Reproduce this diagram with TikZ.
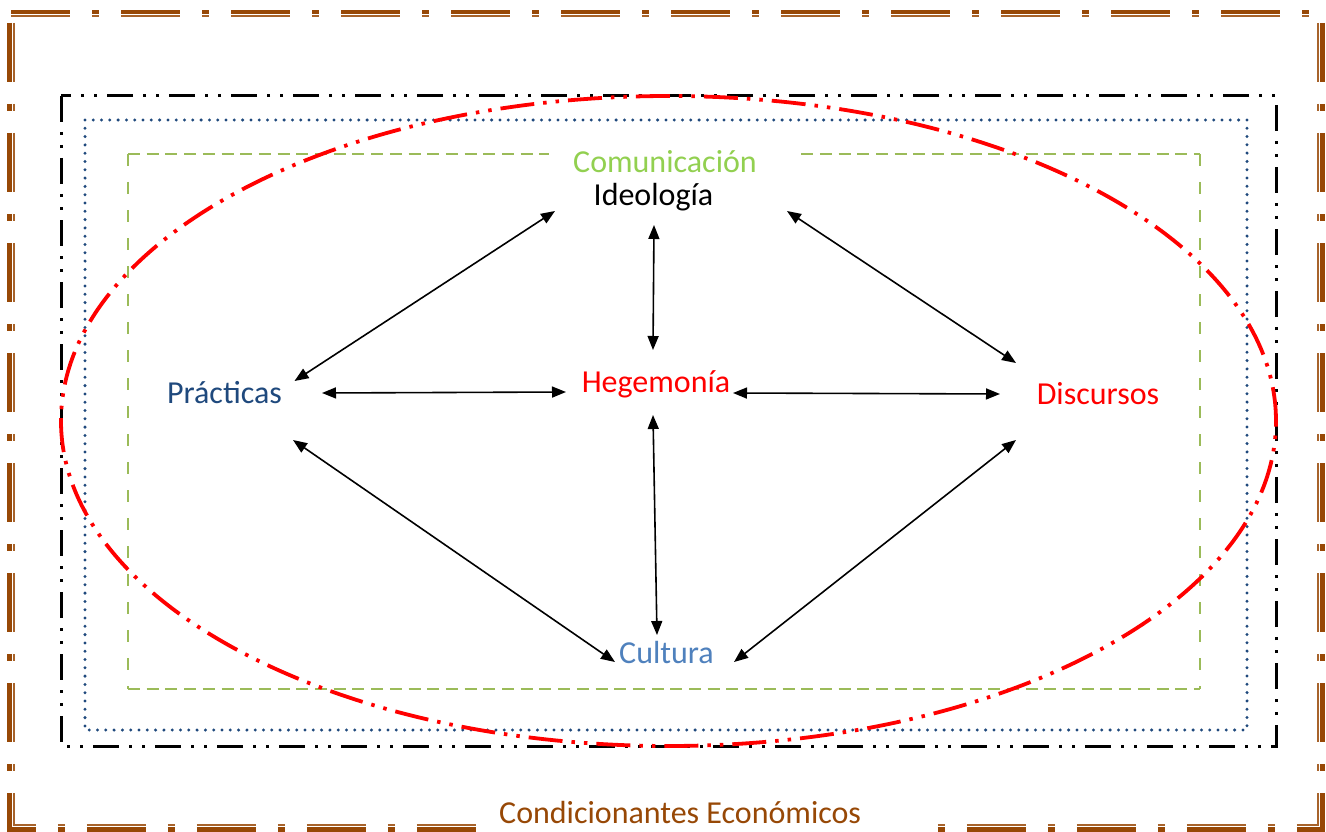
\documentclass[tikz,border=0pt]{standalone}
\usepackage{fontspec}
\setmainfont{Carlito}
\usetikzlibrary{arrows.meta,calc}
\definecolor{brownfr}{HTML}{974806}
\definecolor{pracblue}{HTML}{1F497D}
\definecolor{cultblue}{HTML}{4F81BD}
\definecolor{comgreen}{HTML}{92D050}
\definecolor{rectgreen}{HTML}{9BBB59}
\definecolor{dotblue}{HTML}{1F497D}
\definecolor{hred}{HTML}{FF0000}
\begin{document}
\begin{tikzpicture}[x=1pt,y=-1pt,
  brdash/.style={dash pattern=on 59pt off 22pt on 7pt off 22pt},
  brthick/.style={draw=brownfr, line width=4.3pt, brdash},
  brthin/.style={draw=brownfr!85, line width=1.7pt, brdash},
  blackframe/.style={draw=black, line width=3pt, dash pattern=on 26pt off 10pt on 3pt off 10pt on 3pt off 10pt},
  blueframe/.style={draw=dotblue, line width=3.3pt, line cap=round, dash pattern=on 0pt off 8.3pt},
  greenh/.style={draw=rectgreen, line width=2.2pt, dash pattern=on 12pt off 6.7pt},
  greenv/.style={draw=rectgreen, line width=2.2pt, dash pattern=on 12pt off 16pt},
  redell/.style={draw=hred, line width=3.8pt, dash pattern=on 34pt off 9pt on 3.5pt off 9pt on 3.5pt off 9pt},
  lbl/.style={font=\fontsize{32}{38}\selectfont, inner sep=0pt, anchor=base},
  arr/.style={{Triangle[length=14pt,width=11pt]}-{Triangle[length=14pt,width=11pt]}, line width=1.6pt, draw=black}]
\useasboundingbox (0,0) rectangle (1326,832);
\fill[white] (0,0) rectangle (1326,832);
% brown compound frame
\draw[brthick] (11,12) -- (1312,12);
\draw[brthin] (11,16.3) -- (1312,16.3);
\draw[brthick] (9.5,23) -- (9.5,831.7);
\draw[brthin] (13.7,23) -- (13.7,826);
\draw[brthick] (1322.5,23) -- (1322.5,831.7);
\draw[brthin] (1318.3,23) -- (1318.3,826);
\draw[brthick, dash phase=30.4pt] (7.35,829.5) -- (1324.65,829.5);
\draw[brthin, dash phase=35.9pt] (12.85,825.2) -- (1319.15,825.2);
% inner frames
\draw[blackframe] (61,96) rectangle (1276,746);
\draw[blueframe] (85,120) rectangle (1247,730);
\draw[greenh] (128,154) -- (1200,154);
\draw[greenh] (128,689) -- (1200,689);
\draw[greenv] (128,154) -- (128,689);
\draw[greenv] (1200,154) -- (1200,689);
\draw[redell] (668.5,421) ellipse [x radius=607.5pt, y radius=325pt];
% white band behind the bottom caption (hides the frame there)
\fill[white] (478,796) rectangle (937,832);
% labels
\node[lbl, anchor=base west, fill=white, inner xsep=24pt, inner ysep=2pt, text width=204pt, align=left, text=comgreen] (com) at (549,172) {Comunicación};
\node[lbl, text=black] (ide) at (653.5,205) {Ideología};
\node[lbl, text=pracblue] (pra) at (224.5,403) {Prácticas};
\node[lbl, text=hred] (heg) at (656,392) {Hegemonía};
\node[lbl, text=hred] (dis) at (1098,404) {Discursos};
\node[lbl, text=cultblue] (cul) at (666.5,663) {Cultura};
\node[lbl, anchor=base west, inner sep=0pt, text=brownfr] (eco) at (499,823) {Condicionantes Económicos};
% connectors
\draw[arr] ($(ide.base)+(-98.5,6)$) -- ($(pra.base)+(70,-22)$);
\draw[arr] ($(ide.base)+(0.5,20)$) -- ($(heg.base)+(-3,-42)$);
\draw[arr] ($(ide.base)+(133.5,6)$) -- ($(dis.base)+(-82,-41)$);
\draw[arr] ($(pra.base)+(97.5,-10)$) -- ($(heg.base)+(-90,0)$);
\draw[arr] ($(heg.base)+(77,1)$) -- ($(dis.base)+(-98,-10)$);
\draw[arr] ($(pra.base)+(68.5,37)$) -- ($(cul.base)+(-51.5,-1)$);
\draw[arr] ($(heg.base)+(-3,23)$) -- ($(cul.base)+(-9.5,-28)$);
\draw[arr] ($(dis.base)+(-82,36)$) -- ($(cul.base)+(67.5,-1)$);
\end{tikzpicture}
\end{document}
